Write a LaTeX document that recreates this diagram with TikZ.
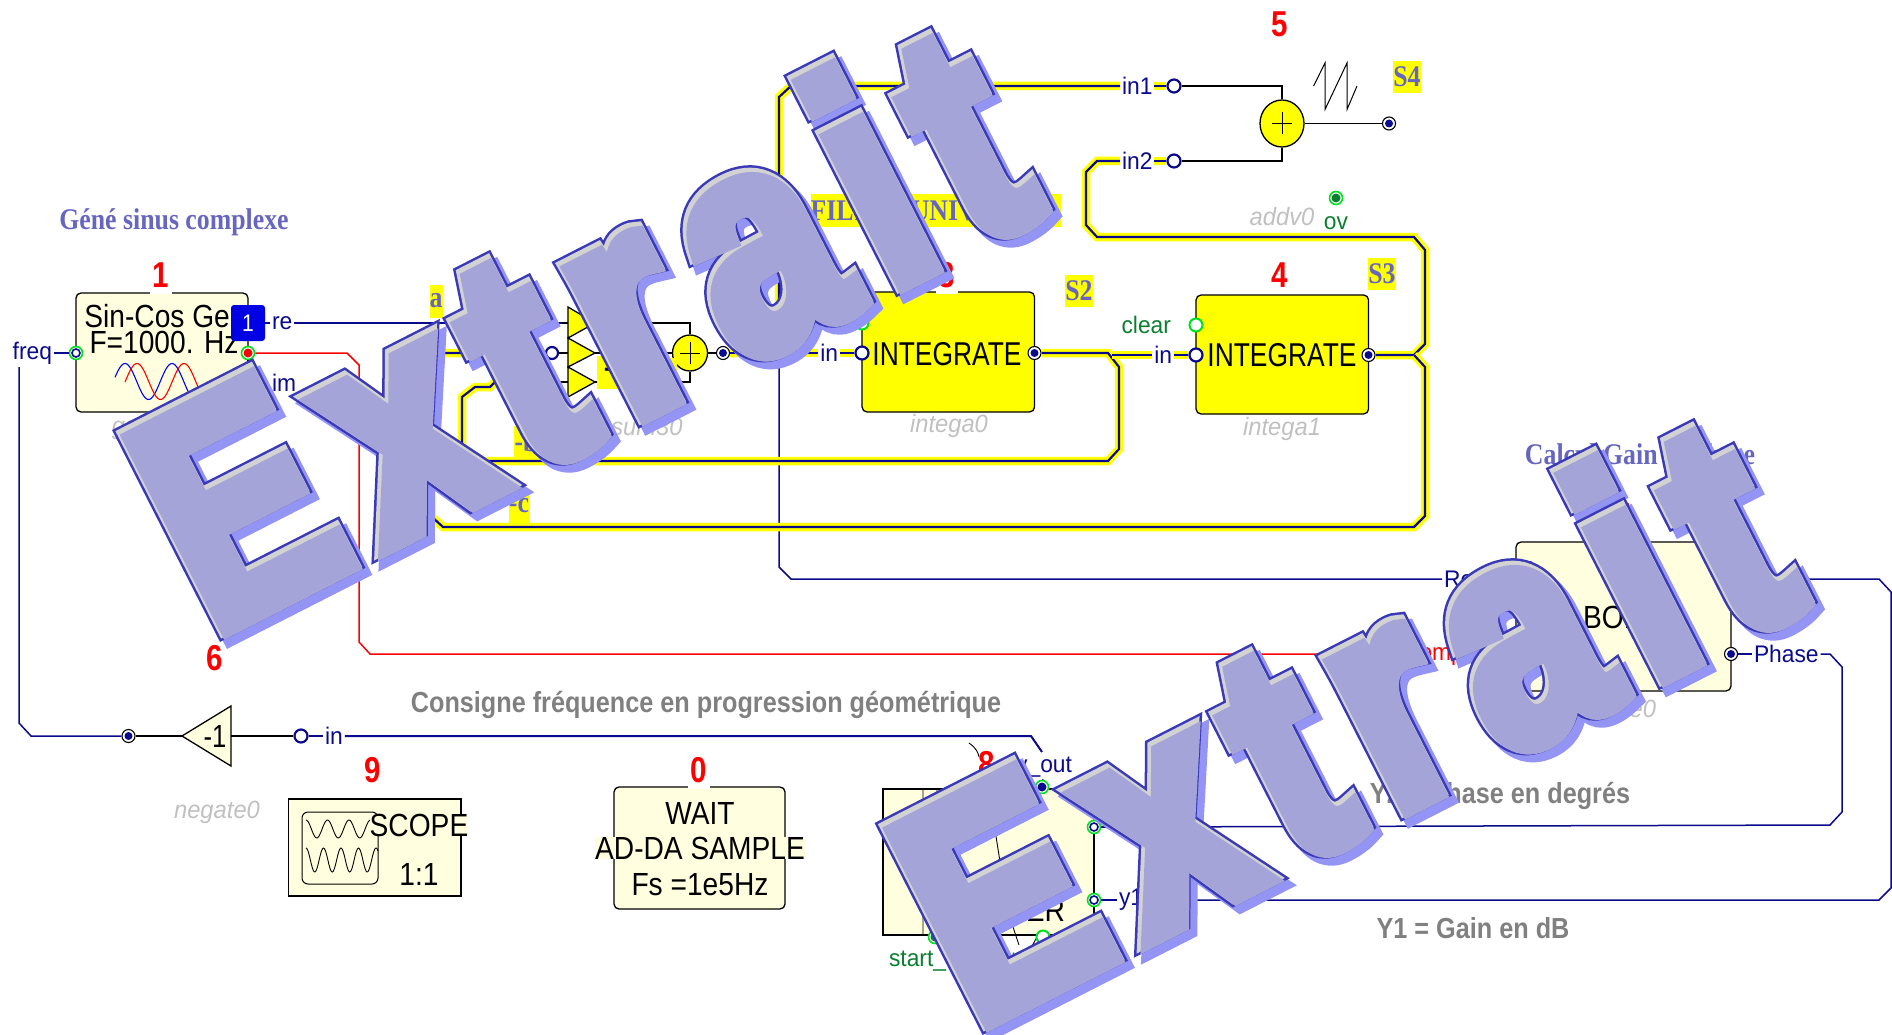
\documentclass[tikz,border=0pt]{standalone}
\usepackage{fontspec}
\usetikzlibrary{shapes.geometric,calc}
\setmainfont{Liberation Sans}[FakeStretch=0.95]
\newfontfamily\blkA{Liberation Sans}[FakeStretch=0.88]
\newfontfamily\blkB{Liberation Sans}[FakeStretch=0.80]
\newfontfamily\numf{Liberation Sans}[FakeStretch=0.82]
\newfontfamily\ttlf{Liberation Serif}[FakeStretch=0.86]
\newfontfamily\grayf{Liberation Sans}[FakeStretch=0.87]
\newfontfamily\wmS{Liberation Sans}[FakeStretch=0.8,LetterSpace=8.6,BoldFeatures={FakeBold=7.4}]
\newfontfamily\wmO{Liberation Sans}[FakeStretch=0.8,LetterSpace=8.6,BoldFeatures={FakeBold=7.4}]
\newfontfamily\wmG{Liberation Sans}[FakeStretch=0.8,LetterSpace=8.6,BoldFeatures={FakeBold=5.8}]
\newfontfamily\wmF{Liberation Sans}[FakeStretch=0.8,LetterSpace=8.6,BoldFeatures={FakeBold=5}]
\definecolor{navy}{HTML}{0A0A8C}
\definecolor{cream}{HTML}{FFFFE0}
\definecolor{yel}{HTML}{FFFF00}
\definecolor{pgreen}{HTML}{00E020}
\definecolor{lgreen}{HTML}{0A7F30}
\definecolor{gitalic}{HTML}{C0C0C0}
\definecolor{gbold}{HTML}{808080}
\definecolor{ttlc}{HTML}{6666C0}
\definecolor{wmfill}{HTML}{A4A4D8}
\definecolor{wmline}{HTML}{3A3AB8}
\definecolor{wmshadow}{HTML}{9494F4}
\definecolor{wmgrey}{HTML}{D2D2D2}
\tikzset{
 lab/.style={inner sep=0pt,outer sep=2pt,text=navy,font=\fontsize{24}{24}\selectfont},
 glab/.style={lab,text=lgreen},
 rlab/.style={lab,text=red},
 ital/.style={inner sep=0pt,text=gitalic,font=\fontsize{25}{25}\selectfont\itshape},
 numb/.style={inner sep=0pt,fill=white,minimum width=22pt,minimum height=38pt,text=red,font=\numf\bfseries\fontsize{36}{36}\selectfont},
 ttl/.style={inner sep=0pt,text=ttlc,font=\ttlf\bfseries\fontsize{30}{30}\selectfont},
 slab/.style={inner sep=0pt,fill=yel,text=ttlc,minimum height=32pt,font=\ttlf\bfseries\fontsize{30}{30}\selectfont},
 grayt/.style={inner sep=0pt,text=gbold,font=\grayf\bfseries\fontsize{29}{29}\selectfont},
 blk/.style={inner sep=0pt,text=black,font=\blkA\fontsize{32}{32}\selectfont},
 crbox/.style={draw=black,line width=1.3pt,fill=cream,rounded corners=5pt,inner sep=0pt},
 ybox/.style={draw=black,line width=1.3pt,fill=yel,rounded corners=5pt,inner sep=0pt},
 pinb/.style={circle,inner sep=0pt,minimum size=13pt},
 pinin/.style={pinb,draw=navy,line width=2.2pt,fill=white},
 pinout/.style={pinb,draw=black,line width=1.1pt,fill=white,path picture={\fill[navy](path picture bounding box.center) circle (4pt);}},
 pinring/.style={pinb,draw=pgreen,line width=1.6pt,fill=white,path picture={\draw[navy,line width=1.6pt,fill=white](path picture bounding box.center) circle (4pt);}},
 pinclear/.style={pinb,draw=pgreen,line width=2pt,fill=white},
 pingd/.style={pinb,draw=pgreen,line width=1.6pt,fill=white,path picture={\fill[#1](path picture bounding box.center) circle (4.5pt);}},
 adder/.style={ellipse,draw=black,line width=1.3pt,fill=yel,inner sep=0pt,path picture={\draw[black,line width=1pt]($(path picture bounding box.center)+(-10pt,0pt)$)--++(20pt,0pt);\draw[black,line width=1pt]($(path picture bounding box.center)+(0pt,-11pt)$)--++(0pt,22pt);}},
 wy/.style={draw=navy,line width=2.2pt,miter limit=2,preaction={draw=yel,line width=8.5pt}},
 wn/.style={draw=navy,line width=1.5pt},
 wk/.style={draw=black,line width=1.3pt},
 wr/.style={draw=red,line width=1.5pt},
 wmk/.style={inner sep=0pt,anchor=base west,rotate=27},
 thinline/.style={draw=black,line width=0.9pt},
}
\newcommand{\wmsize}{\bfseries\fontsize{312}{312}\selectfont}
\newcommand{\extrait}[3]{%
 \node[wmk,text=wmshadow] (wmshadow#1) at (#2+7,#3+7) {\wmS\wmsize Extrait};
 \node[wmk,text=wmline] (wmline#1) at (#2,#3) {\wmO\wmsize Extrait};
 \node[wmk,text=wmgrey] (wmgrey#1) at (#2,#3) {\wmG\wmsize Extrait};
 \node[wmk,text=wmfill] (wmfill#1) at (#2+2.5,#3+3) {\wmF\wmsize Extrait};
}
\begin{document}
\begin{tikzpicture}[x=1pt,y=-1pt]
\useasboundingbox (0,0) rectangle (1892,1035);
% ---- blocks
\node[crbox,minimum width=172pt,minimum height=119pt] (sincos) at (162,352.5) {};
\node[ybox,minimum width=172.5pt,minimum height=120pt] (integ3) at (948.3,352) {};
\node[ybox,minimum width=172.5pt,minimum height=119pt] (integ4) at (1282.3,354.5) {};
\node[crbox,minimum width=215pt,minimum height=149pt] (bode) at (1623.5,616.5) {};
\node[draw=black,line width=1.5pt,fill=cream,inner sep=0pt,minimum width=211pt,minimum height=146pt] (plotter) at (988.5,862) {};
\node[draw=black,line width=1.8pt,fill=cream,inner sep=0pt,minimum width=172.5pt,minimum height=97pt] (scope) at (374.8,847.5) {};
\node[crbox,minimum width=171pt,minimum height=122pt] (waitb) at (699.5,848) {};
% ---- icons
\draw[blue,line width=1.1pt] plot[domain=115:205,samples=70] (\x,{381.5-18*cos((\x-125)/47*360)});
\draw[red,line width=1.1pt] plot[domain=125:215,samples=70] (\x,{381.5-18*cos((\x-137)/47*360)});
\draw[thinline] (923,789)--(923,935) (937,789)--(937,935) (995,830)--(1001,868);
\draw[thinline] (1013,927)--(1019,945) (1037,937)--(1032,946);
\draw[thinline] (969,743) .. controls (976,748) and (978,752) .. (979,757);
\node[draw=black,line width=1pt,rounded corners=6pt,minimum width=76pt,minimum height=72pt,inner sep=0pt] (scopeinner) at (340,848) {};
\draw[thinline] plot[domain=306:371,samples=70] (\x,{829-9*cos((\x-306)/21.5*360)});
\draw[thinline] plot[domain=306:378,samples=80] (\x,{860-12*cos((\x-306)/17.5*360)});
\draw[black,line width=1pt] (1313.6,86)--(1325,63)--(1325,109.5)--(1347,63)--(1347,109.5)--(1357,86);
% ---- adders, triangles
\node[adder,minimum width=35pt,minimum height=36pt] (add1) at (690,353) {};
\node[adder,minimum width=44pt,minimum height=47pt] (add2) at (1282,123.5) {};
\coordinate (t1in) at (568,323); \coordinate (t1out) at (595,323);
\coordinate (t2in) at (568,353); \coordinate (t2out) at (595,353);
\coordinate (t3in) at (568,382); \coordinate (t3out) at (595,382);
\draw[fill=yel,draw=black,line width=1.3pt] (568,307)--(t1out)--(568,338)--cycle;
\draw[fill=yel,draw=black,line width=1.3pt] (568,338)--(t2out)--(568,367)--cycle;
\draw[fill=yel,draw=black,line width=1.3pt] (568,367)--(t3out)--(568,397)--cycle;
\draw[fill=cream,draw=black,line width=1.3pt] (182,736)--(231,706)--(231,766)--cycle;
\coordinate (negtip) at (182,736); \coordinate (negright) at (231,736);
\node[blk,font=\blkB\fontsize{32}{32}\selectfont] (negtxt) at (215,736) {-1};
% ---- block texts
\node[blk] (sc1) at (165,316) {Sin-Cos Gen};
\node[blk] (sc2) at (164,342) {F=1000. Hz};
\node[blk,font=\blkB\fontsize{33}{33}\selectfont] (i3t) at (947,354) {INTEGRATE};
\node[blk,font=\blkB\fontsize{33}{33}\selectfont] (i4t) at (1282,355) {INTEGRATE};
\node[blk] (bodet) at (1623,617) {BODE};
\node[blk] (plott) at (1000,910) {PLOTTER};
\node[blk,fill=cream,outer sep=0pt] (scope1) at (419,825) {SCOPE};
\node[blk] (scope2) at (419,874) {1:1};
\node[blk] (w1) at (700,813) {WAIT};
\node[blk,fill=cream] (w2) at (700,848) {AD-DA SAMPLE};
\node[blk] (w3) at (700,885) {Fs =1e5Hz};
% ---- blue tags
\node[draw=none,fill=blue!90!black,rounded corners=3pt,minimum width=34pt,minimum height=36pt,inner sep=0pt,text=white,font=\blkA\fontsize{24}{24}\selectfont] (tag1) at (248,323) {1};
\node[draw=none,fill=blue!90!black,rounded corners=3pt,minimum width=35pt,minimum height=34pt,inner sep=0pt] (tag2) at (1515.5,578) {};
% ---- ports
\node[pinring] (freq) at (76,353) {};
\node[pingd=red] (im) at (248,353) {};
\node[pinin,minimum size=12pt] (sumin) at (552,353) {};
\node[pinout] (sumout) at (723,353) {};
\node[pinin] (in3) at (862,353) {};
\node[pinclear] (clr3) at (862,323) {};
\node[pinout] (out3) at (1034.5,353) {};
\node[pinin] (in4) at (1196,355) {};
\node[pinclear] (clr4) at (1196,325) {};
\node[pinout] (out4) at (1368.5,355) {};
\node[pinin] (in1p) at (1174,86) {};
\node[pinin] (in2p) at (1174,161) {};
\node[pinout] (addout) at (1389,123.5) {};
\node[pingd=lgreen] (ovp) at (1336,198) {};
\node[pinring] (reelp) at (1516,579) {};
\node[pingd=red] (cplx) at (1515,654) {};
\node[pinout] (phasep) at (1731,654) {};
\node[pinout] (gainp) at (1731,579) {};
\node[pinout] (negout) at (128.5,736) {};
\node[pinin] (negin) at (301,736) {};
\node[pingd=navy] (yout) at (1042,787) {};
\node[pinring] (y2p) at (1094,827) {};
\node[pinring] (y1p) at (1094,900) {};
\node[pingd=lgreen] (startp) at (935,937) {};
\node[pinclear] (stopp) at (1043,937) {};
% ---- labels
\node[lab,anchor=east] (freql) at (54,353) {freq};
\node[lab,anchor=west] (rel) at (270,323) {re};
\node[lab,anchor=west] (iml) at (270,383) {im};
\node[lab,anchor=east] (in3l) at (840,353) {in};
\node[lab,anchor=east] (in4l) at (1174,355) {in};
\node[glab,anchor=east] (clr3l) at (845,323) {clear};
\node[glab,anchor=east] (clr4l) at (1173,325) {clear};
\node[lab,anchor=west] (in1l) at (1120,86) {in1};
\node[lab,anchor=west] (in2l) at (1120,161) {in2};
\node[glab] (ovl) at (1336,223) {ov};
\node[lab,anchor=east] (reell) at (1493,579) {Reel};
\node[rlab,anchor=east] (cplxl) at (1495,654) {Complex};
\node[lab,anchor=west] (phasel) at (1752,654) {Phase};
\node[lab,anchor=west] (gainl) at (1750,579) {Gain};
\node[lab,anchor=west] (negl) at (323,736) {in};
\node[lab,anchor=east] (youtl) at (1074,767) {y\_out};
\node[lab,anchor=west] (y1l) at (1117,900) {y1};
\node[lab,anchor=west] (y2l) at (1117,827) {y2};
\node[glab,anchor=west] (startl) at (887,961) {start\_out};
\node[glab,anchor=east] (stopl) at (1038,961) {stat};
% ---- italic names
\node[ital] (n1) at (137,428) {gsc0};
\node[ital] (n2) at (647,427) {sum30};
\node[ital] (n3) at (949,426) {intega0};
\node[ital] (n4) at (1282,429) {intega1};
\node[ital] (n5) at (1282,217) {addv0};
\node[ital] (n6) at (1623,709) {bode0};
\node[ital] (n7) at (217,812) {negate0};
% ---- numbers
\node[numb] (a1) at (160.5,275) {1};
\node[numb] (a3) at (947,275) {3};
\node[numb] (a4) at (1280,275) {4};
\node[numb,fill=none] (a5) at (1280,24) {5};
\node[numb,fill=none] (a6) at (215,658) {6};
\node[numb,fill=none] (a7) at (1623,516) {7};
\node[numb,fill=none] (a8) at (987,764) {8};
\node[numb,fill=none] (a9) at (373,770) {9};
\node[numb] (a0) at (699,770) {0};
% ---- titles
\node[ttl] (t1) at (174,222) {Géné sinus complexe};
\node[ttl] (t2) at (1640,454) {Calcul Gain et Phase};
\node[grayt] (g1) at (706,705) {Consigne fréquence en progression géométrique};
\node[grayt] (g2) at (1500,796) {Y2 = Phase en degrés};
\node[grayt] (g3) at (1473,928) {Y1 = Gain en dB};
% ---- wires
\draw[wn] (rel)--(tag1);
\draw[wn] (freql)--(freq);
\draw[wn] (rel)--(562,323);
\draw[wk] (562,323)--(t1in);
\draw[wk] (t1out)--(690,323)--(add1);
\draw[wk] (sumin)--(t2in);
\draw[wk] (t2out)--(add1);
\draw[wk] (495,382)--(t3in);
\draw[wk] (t3out)--(690,382)--(add1);
\draw[wk] (add1)--(sumout);
\draw[wk] (im)--(248,385);
\draw[wr] (im)--(347,353)--(359,365)--(359,642)--(370,654)--(cplxl);
\draw[wr] (cplxl)--(cplx);
\draw[wn] (19,367)--(19,723)--(31,736)--(negout);
\draw[wk] (negout)--(negtip);
\draw[wk] (negright)--(negin);
\draw[wn] (negin)--(negl);
\draw[wn,line width=2pt] (negl)--(1031,736)--(1042,752);
\draw[wn] (youtl)--(yout);
\draw[wn] (779,353)--(779,567)--(791,579)--(reell);
\draw[wn] (reell)--(reelp);
\draw[wn] (phasep)--(phasel);
\draw[wn] (phasel)--(1830,654)--(1842,667)--(1842,812)--(1830,825)--(y2l);
\draw[wn] (y2l)--(y2p);
\draw[wn] (gainl)--(1879,579)--(1891,592)--(1891,888)--(1879,900)--(y1l);
\draw[wn] (y1l)--(y1p);
\draw[wy] (sumout)--(779,353)--(779,97)--(791,86)--(in1l);
\draw[wy] (in1l)--(in1p);
\draw[wk] (in1p)--(1282,86)--(add2);
\draw[wk] (add2)--(1282,161)--(in2p);
\draw[wy] (in2p)--(in2l);
\draw[wk] (add2)--(addout);
\draw[wy] (in2l)--(1097,161)--(1086,172)--(1086,225)--(1097,237)--(1414,237)--(1425,250)--(1425,344)--(1414,355)--(out4);
\draw[wy] (1414,355)--(1425,367)--(1425,516)--(1414,527)--(443,527)--(431,516)--(431,365)--(443,353)--(sumin);
\draw[wy] (out3)--(1108,353)--(1119,367)--(1119,449)--(1108,461)--(482,461)--(462,447)--(462,397)--(475,387)--(490,387)--(495,382);
\draw[wy] (1112,355)--(in4l);
\draw[wy] (in4l)--(in4);
\draw[wy] (sumout)--(in3l);
\draw[wy] (in3l)--(in3);
% ---- yellow tags
\node[slab,minimum width=13pt,minimum height=33pt] (sa) at (436,301) {a};
\node[slab,minimum width=24pt,minimum height=31pt] (sb) at (526,441) {-b};
\node[slab,minimum width=21pt,minimum height=33pt] (sc) at (519,506) {-c};
\node[slab,minimum width=23pt,minimum height=33pt,text=black,font=\blkA\bfseries\fontsize{26}{26}\selectfont] (sm) at (608,372) {-};
\node[slab,minimum width=22pt,minimum height=25pt,text=black,font=\blkA\bfseries\fontsize{24}{24}\selectfont] (sn) at (666,370) {1};
\node[slab,minimum width=27pt] (s1) at (733,285) {S1};
\node[slab,minimum width=27pt] (s2) at (1079,291) {S2};
\node[slab,minimum width=27pt] (s3) at (1382,274) {S3};
\node[slab,minimum width=27pt] (s4) at (1407,77) {S4};
\node[slab,minimum width=250pt] (filt) at (936,210.5) {FILTRE UNIVERSEL};
% ---- watermarks
\extrait{A}{210}{634}
\extrait{B}{972.5}{1027}
\end{tikzpicture}
\end{document}
